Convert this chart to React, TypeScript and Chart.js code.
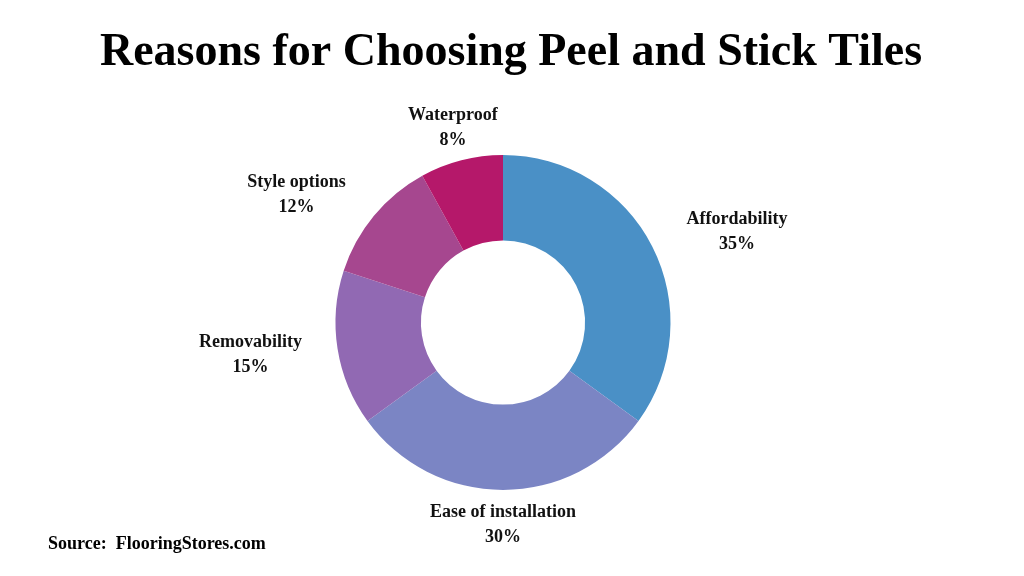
import React, { useEffect, useRef } from "react";
import { Chart, registerables } from "chart.js";

Chart.register(...registerables);

const categories = ["Affordability", "Ease of installation", "Removability", "Style options", "Waterproof"];
const values = [35, 30, 15, 12, 8];
const colors = ["#4A90C6", "#7B85C4", "#9169B3", "#A6478F", "#B5186A"];
const titleText = "Reasons for Choosing Peel and Stick Tiles";
const sourceText = "Source:  FlooringStores.com";

const FONT = "'Liberation Serif', 'DejaVu Serif', serif";

const labelPlugin = {
  id: "outerLabels",
  afterDatasetsDraw(chart: any) {
    const ctx = chart.ctx;
    const meta = chart.getDatasetMeta(0);
    const total = values.reduce((a, b) => a + b, 0);
    ctx.save();
    ctx.fillStyle = "#111111";
    ctx.font = `bold 18px ${FONT}`;
    ctx.textBaseline = "middle";
    meta.data.forEach((arc: any, i: number) => {
      const mid = (arc.startAngle + arc.endAngle) / 2;
      const R = arc.outerRadius + 34;
      const x = arc.x + Math.cos(mid) * R;
      const y = arc.y + Math.sin(mid) * R;
      const c = Math.cos(mid);
      let align: CanvasTextAlign = "center";
      let ax = x;
      if (c > 0.45) { align = "left"; ax = x + 4; }
      else if (c < -0.45) { align = "right"; ax = x - 2; }
      ctx.textAlign = align;
      const pct = Math.round((values[i] / total) * 100) + "%";
      const lw = ctx.measureText(categories[i]).width;
      const pw = ctx.measureText(pct).width;
      let px = ax;
      if (align === "left") px = ax + lw / 2 - pw / 2;
      if (align === "right") px = ax - lw / 2 + pw / 2;
      ctx.fillText(categories[i], ax, y - 12);
      ctx.fillText(pct, px, y + 13);
    });
    ctx.restore();
  },
};

const textPlugin = {
  id: "texts",
  afterDraw(chart: any) {
    const ctx = chart.ctx;
    ctx.save();
    ctx.fillStyle = "#000000";
    ctx.font = `bold 46px ${FONT}`;
    ctx.textAlign = "center";
    ctx.textBaseline = "alphabetic";
    ctx.fillText(titleText, 511, 65);
    ctx.font = `bold 18px ${FONT}`;
    ctx.textAlign = "left";
    ctx.fillText(sourceText, 48, 549);
    ctx.restore();
  },
};

export default function App() {
  const ref = useRef<HTMLCanvasElement | null>(null);
  useEffect(() => {
    if (!ref.current) return;
    const chart = new Chart(ref.current, {
      type: "doughnut",
      data: {
        labels: categories,
        datasets: [
          {
            data: values,
            backgroundColor: colors,
            borderWidth: 0,
          },
        ],
      },
      options: {
        animation: false,
        responsive: false,
        cutout: "49%",
        layout: { padding: { top: 155, bottom: 86, left: 0, right: 18 } },
        plugins: {
          legend: { display: false },
          tooltip: { enabled: false },
          title: { display: false },
        },
      },
      plugins: [labelPlugin, textPlugin],
    });
    return () => chart.destroy();
  }, []);
  return (
    <div style={{ position: "absolute", left: 0, top: 0, width: 1024, height: 576, background: "#fff" }}>
      <canvas ref={ref} width={1024} height={576} style={{ width: 1024, height: 576 }} />
    </div>
  );
}
